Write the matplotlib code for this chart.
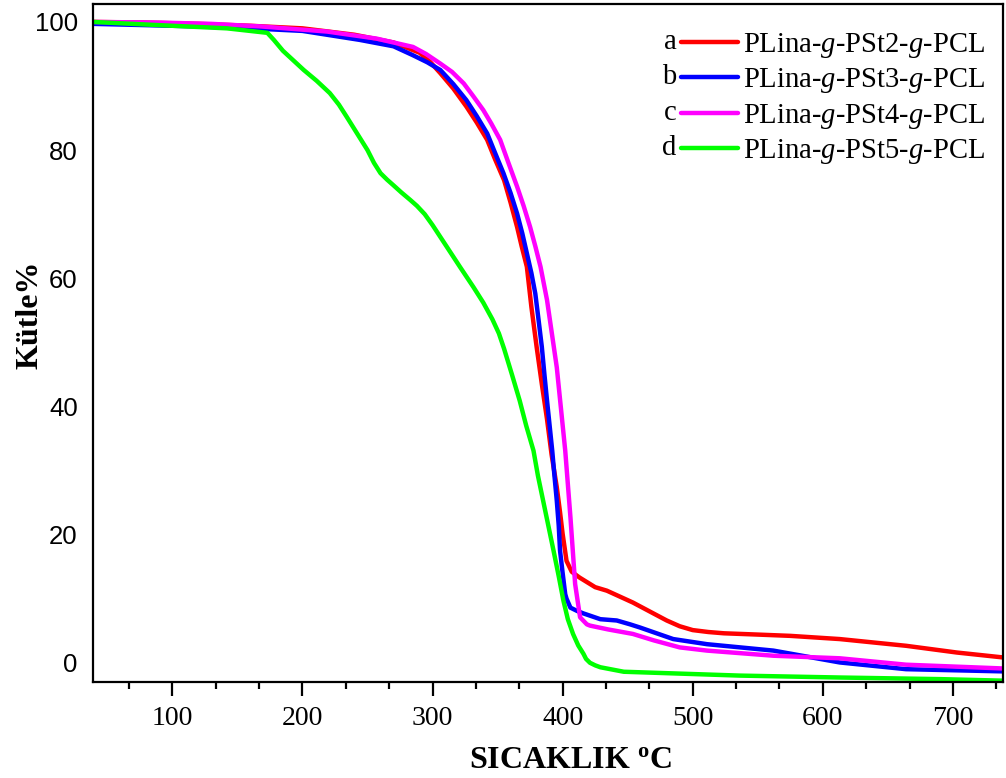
import matplotlib
matplotlib.use("Agg")
import matplotlib.pyplot as plt
import matplotlib.transforms as mtransforms

# TGA curves: temperature (°C) and remaining mass (%)
temp_a = [39, 80, 120, 160, 200, 240, 270, 290, 298, 306, 316, 326, 334, 342, 348, 355,
          360, 365, 368.5, 372.5, 376, 380, 384, 388, 391.5, 395.5, 398, 400, 403, 407,
          413, 425, 434, 454, 467, 480, 490, 500, 512, 524, 550, 575, 613, 664, 703, 740]
mass_a = [100, 99.9, 99.7, 99.4, 99.0, 98.0, 96.8, 95.2, 93.8, 92.0, 89.6, 86.8, 84.3, 81.6, 78.6, 75.3,
          71.8, 68, 65.0, 61.8, 55.5, 49.3, 43.5, 38, 32.5, 27.4, 23.5, 20.1, 15.9, 14.2,
          13.3, 11.8, 11.25, 9.4, 8.0, 6.6, 5.7, 5.1, 4.8, 4.6, 4.4, 4.2, 3.7, 2.65, 1.6, 0.8]

temp_b = [39, 80, 120, 160, 200, 244, 270, 285, 296, 306, 316, 326, 334, 342, 348, 354.5,
          360, 365, 369, 372.5, 376, 379, 381.5, 384, 386, 388, 390, 392, 393.7, 395.5, 397,
          398, 400, 402, 403, 406, 411, 416, 429, 441.6, 451.8, 459.5, 485, 511, 562, 613, 664, 740]
mass_b = [99.7, 99.5, 99.3, 99.0, 98.6, 97.2, 96.2, 94.8, 93.7, 92.5, 90.3, 87.8, 85.3, 82.6, 79.6, 76.4,
          73.3, 70.1, 67.0, 63.9, 60.8, 57.6, 53.5, 49.3, 45.0, 40.9, 37.0, 33.1, 29.2, 25.3, 21.4,
          17.5, 14.0, 10.7, 10.0, 8.6, 8.1, 7.7, 6.8, 6.6, 6.0, 5.5, 3.7, 2.9, 1.9, 0.05, -1.0, -1.35]

temp_c = [39, 90, 130, 168, 219, 257, 285, 295, 306, 315, 324, 331, 339, 345, 352, 358,
          365, 370, 375, 379, 383, 388, 395.5, 402, 406, 409.6, 413.4, 418.6, 421, 435,
          454, 470, 490, 511, 562, 613, 664, 740]
mass_c = [100, 99.9, 99.7, 99.3, 98.5, 97.4, 96.1, 95.0, 93.5, 92.2, 90.4, 88.5, 86.25, 84.2, 81.6, 78.2,
          74.3, 71.3, 68, 65.0, 61.8, 56.6, 46.1, 33.1, 22.7, 12.3, 7.1, 6.0, 5.8, 5.2,
          4.5, 3.5, 2.4, 1.9, 1.1, 0.7, -0.3, -0.9]

temp_d = [39, 90, 142, 173, 178, 185, 193, 201, 211, 221, 228, 234, 242, 250, 255, 260,
          265, 270, 276, 283, 288, 294, 300, 311, 321, 331.5, 339, 346, 351, 355, 361, 367,
          372, 377.6, 381, 385, 389, 393, 397, 400.6, 404, 408, 412, 416, 418, 421, 425,
          429, 447, 536, 613, 690, 740]
mass_d = [100, 99.5, 99.0, 98.3, 97.2, 95.5, 94.0, 92.5, 90.8, 88.9, 87.1, 85.2, 82.6, 80, 78.0, 76.4,
          75.4, 74.5, 73.4, 72.2, 71.3, 70.0, 68.3, 64.9, 61.8, 58.6, 56.2, 53.6, 51.4, 49, 45.0, 40.9,
          37.0, 33.1, 29.2, 25.3, 21.4, 17.5, 13.5, 9.7, 6.8, 4.5, 2.7, 1.4, 0.6, 0.0, -0.4,
          -0.7, -1.4, -2.0, -2.3, -2.55, -2.8]

letters = ["a", "b", "c", "d"]
labels = [r"PLina-$g$-PSt2-$g$-PCL", r"PLina-$g$-PSt3-$g$-PCL",
          r"PLina-$g$-PSt4-$g$-PCL", r"PLina-$g$-PSt5-$g$-PCL"]
colors = ["#ff0000", "#0000ff", "#ff00ff", "#00ff00"]

x_ticks = [100, 200, 300, 400, 500, 600, 700]
y_ticks = [0, 20, 40, 60, 80, 100]

plt.rcParams["mathtext.fontset"] = "custom"
plt.rcParams["mathtext.rm"] = "Liberation Serif"
plt.rcParams["mathtext.it"] = "Liberation Serif:italic"
plt.rcParams["mathtext.bf"] = "Liberation Serif:bold"

fig = plt.figure(figsize=(10.06, 7.78), dpi=100)
ax = fig.add_axes([93 / 1006, 1 - 682 / 778, (1003 - 93) / 1006, (682 - 4) / 778])

series = [(temp_a, mass_a), (temp_b, mass_b), (temp_c, mass_c), (temp_d, mass_d)]
handles = []
for (t, m), c, lab in zip(series, colors, labels):
    h, = ax.plot(t, m, color=c, lw=3.2, solid_joinstyle="round", solid_capstyle="round", label=lab)
    handles.append(h)

ax.set_xlim(39, 738.5)
ax.set_ylim(-3, 102.8)

# major ticks every 100, two minor ticks in between
ax.set_xticks(x_ticks)
minor = []
for base in range(0, 800, 100):
    for k in (1, 2):
        v = base + k * 100 / 3
        if 39 < v < 738.5:
            minor.append(v)
ax.set_xticks(minor, minor=True)
ax.set_yticks(y_ticks)
ax.tick_params(axis="x", which="major", direction="out", length=10, width=1.6,
               labelsize=20, pad=7)
ax.tick_params(axis="x", which="minor", direction="out", length=5, width=1.6)
ax.tick_params(axis="y", which="both", length=0, labelsize=18.5, pad=11)
for lbl in ax.get_xticklabels():
    lbl.set_fontfamily("Liberation Serif")
for lbl in ax.get_yticklabels():
    lbl.set_fontfamily("Liberation Sans")

for sp in ax.spines.values():
    sp.set_linewidth(1.6)

ax.set_xlabel(r"SICAKLIK $^{\mathbf{o}}$C", fontfamily="Liberation Serif",
              fontweight="bold", fontsize=23)
ax.xaxis.set_label_coords(0.525, -0.094)
ax.set_ylabel("Kütle%", fontfamily="Liberation Serif", fontweight="bold", fontsize=23)
ax.yaxis.set_label_coords(-0.069, 0.541)
ax.yaxis.label.set_va("center")

leg = ax.legend(handles=handles, loc="upper right", bbox_to_anchor=(1.01, 1.0),
                frameon=False, prop={"family": "Liberation Serif", "size": 20.6},
                handlelength=2.0, handletextpad=0.18, labelspacing=0.22,
                borderaxespad=0.55)

fig.canvas.draw()
renderer = fig.canvas.get_renderer()
for line, letter in zip(leg.get_lines(), letters):
    bb = line.get_window_extent(renderer)
    fig.text(bb.x0 - 4, (bb.y0 + bb.y1) / 2, letter, ha="right", va="center",
             fontfamily="Liberation Serif", fontsize=20.6,
             transform=mtransforms.IdentityTransform())

fig.savefig("out.png", dpi=100)
